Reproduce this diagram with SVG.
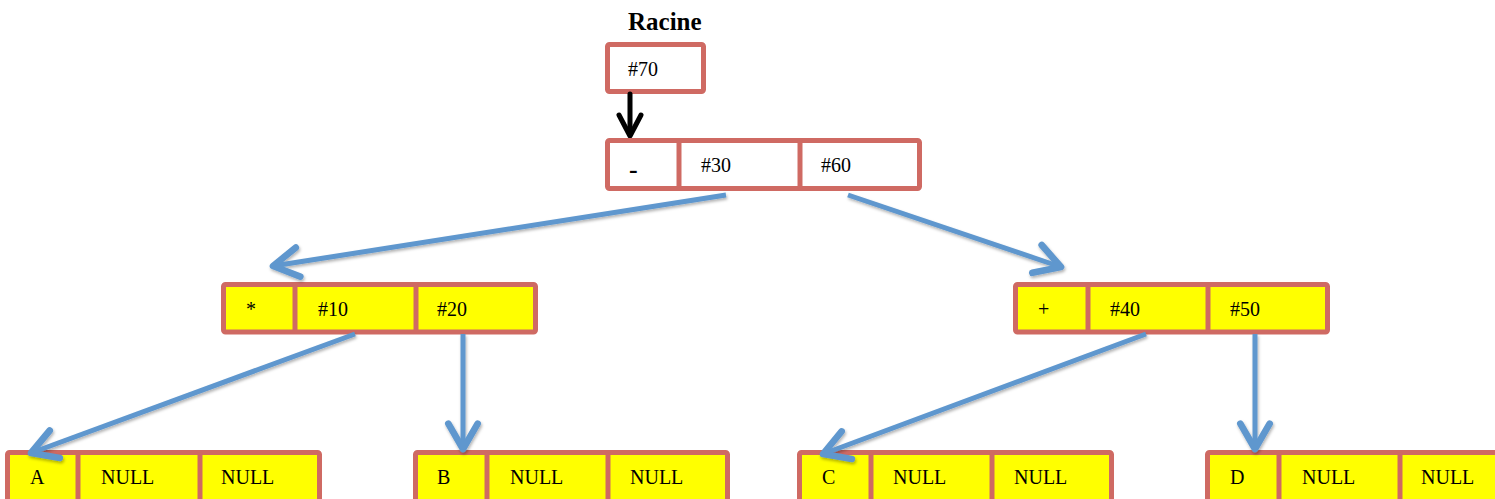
<svg xmlns="http://www.w3.org/2000/svg" width="1495" height="499" viewBox="0 0 1495 499">
  <style>
    .box { stroke: #CF6A63; stroke-width: 5; }
    .white { fill: #FFFFFF; }
    .yellow { fill: #FFFF00; }
    .div { stroke: #CF6A63; stroke-width: 5; }
    .t { font-family: "Liberation Serif", "Times New Roman", serif; font-size: 20px; fill: #000000; }
    .b { font-weight: bold; }
    .link { stroke: #5F97CE; stroke-width: 5; fill: none; marker-end: url(#head); }
  </style>
  <defs>
    <marker id="head" markerUnits="userSpaceOnUse" markerWidth="40" markerHeight="40" viewBox="-25 -15 30 30" refX="0" refY="0" orient="auto" overflow="visible">
      <path d="M -19 -11 L 0 0 L -19 11" fill="none" stroke="#5F97CE" stroke-width="5" stroke-linecap="round" stroke-linejoin="round"/>
    </marker>
    <filter id="shadow" x="-10%" y="-10%" width="120%" height="130%">
      <feDropShadow dx="1" dy="2" stdDeviation="1.5" flood-color="#000000" flood-opacity="0.3"/>
    </filter>
  </defs>

  <rect width="1495" height="499" fill="#FFFFFF"/>

  <!-- root pointer -->
  <g id="racine">
    <text class="t b" x="628" y="30" style="font-size:25px">Racine</text>
    <rect class="box white" x="607.5" y="44.5" width="96" height="47" rx="2"/>
    <text class="t" x="628" y="76">#70</text>
  </g>

  <!-- black pointer from Racine to the root node -->
  <g id="racine-arrow" stroke="#000000" stroke-width="5" fill="none" stroke-linecap="round" stroke-linejoin="round">
    <line x1="630" y1="94" x2="630" y2="134"/>
    <path d="M 619 115 L 630 136 L 641 115"/>
  </g>

  <!-- tree nodes: operator/value cell, left pointer, right pointer -->
  <g id="node-minus" transform="translate(605,138)">
    <rect class="box white" x="2.5" y="2.5" width="312" height="48" rx="2"/>
    <line class="div" x1="74" y1="2.5" x2="74" y2="50.5"/>
    <line class="div" x1="195" y1="2.5" x2="195" y2="50.5"/>
    <text class="t b" x="24" y="40" style="font-size:26px">-</text>
    <text class="t" x="96" y="34">#30</text>
    <text class="t" x="216" y="34">#60</text>
  </g>

  <g id="node-times" transform="translate(221,282)">
    <rect class="box yellow" x="2.5" y="2.5" width="312" height="47.5" rx="2"/>
    <line class="div" x1="74" y1="2.5" x2="74" y2="50"/>
    <line class="div" x1="195" y1="2.5" x2="195" y2="50"/>
    <text class="t" x="25" y="34">*</text>
    <text class="t" x="97" y="34">#10</text>
    <text class="t" x="216" y="34">#20</text>
  </g>

  <g id="node-plus" transform="translate(1013,282)">
    <rect class="box yellow" x="2.5" y="2.5" width="312" height="47.5" rx="2"/>
    <line class="div" x1="75" y1="2.5" x2="75" y2="50"/>
    <line class="div" x1="195" y1="2.5" x2="195" y2="50"/>
    <text class="t" x="25" y="34">+</text>
    <text class="t" x="97" y="34">#40</text>
    <text class="t" x="217" y="34">#50</text>
  </g>

  <g id="leaf-a" transform="translate(5,450)">
    <rect class="box yellow" x="2.5" y="2.5" width="312" height="60" rx="2"/>
    <line class="div" x1="73" y1="2.5" x2="73" y2="62"/>
    <line class="div" x1="195" y1="2.5" x2="195" y2="62"/>
    <text class="t" x="25" y="34">A</text>
    <text class="t" x="96" y="34">NULL</text>
    <text class="t" x="216" y="34">NULL</text>
  </g>

  <g id="leaf-b" transform="translate(413,450)">
    <rect class="box yellow" x="2.5" y="2.5" width="312" height="60" rx="2"/>
    <line class="div" x1="74" y1="2.5" x2="74" y2="62"/>
    <line class="div" x1="195" y1="2.5" x2="195" y2="62"/>
    <text class="t" x="24" y="34">B</text>
    <text class="t" x="97" y="34">NULL</text>
    <text class="t" x="217" y="34">NULL</text>
  </g>

  <g id="leaf-c" transform="translate(797,450)">
    <rect class="box yellow" x="2.5" y="2.5" width="312" height="60" rx="2"/>
    <line class="div" x1="74" y1="2.5" x2="74" y2="62"/>
    <line class="div" x1="195" y1="2.5" x2="195" y2="62"/>
    <text class="t" x="25" y="34">C</text>
    <text class="t" x="96" y="34">NULL</text>
    <text class="t" x="217" y="34">NULL</text>
  </g>

  <g id="leaf-d" transform="translate(1205,450)">
    <rect class="box yellow" x="2.5" y="2.5" width="312" height="60" rx="2"/>
    <line class="div" x1="74" y1="2.5" x2="74" y2="62"/>
    <line class="div" x1="195" y1="2.5" x2="195" y2="62"/>
    <text class="t" x="25" y="34">D</text>
    <text class="t" x="97" y="34">NULL</text>
    <text class="t" x="216" y="34">NULL</text>
  </g>

  <!-- child pointers -->
  <g id="connectors" filter="url(#shadow)">
    <line class="link" x1="726" y1="195" x2="273" y2="266"/>
    <line class="link" x1="848" y1="195" x2="1061" y2="267"/>
    <line class="link" x1="355" y1="334" x2="31" y2="453"/>
    <line class="link" x1="463" y1="334" x2="463" y2="449"/>
    <line class="link" x1="1146" y1="334" x2="823" y2="454"/>
    <line class="link" x1="1255" y1="334" x2="1255" y2="449"/>
  </g>
</svg>
